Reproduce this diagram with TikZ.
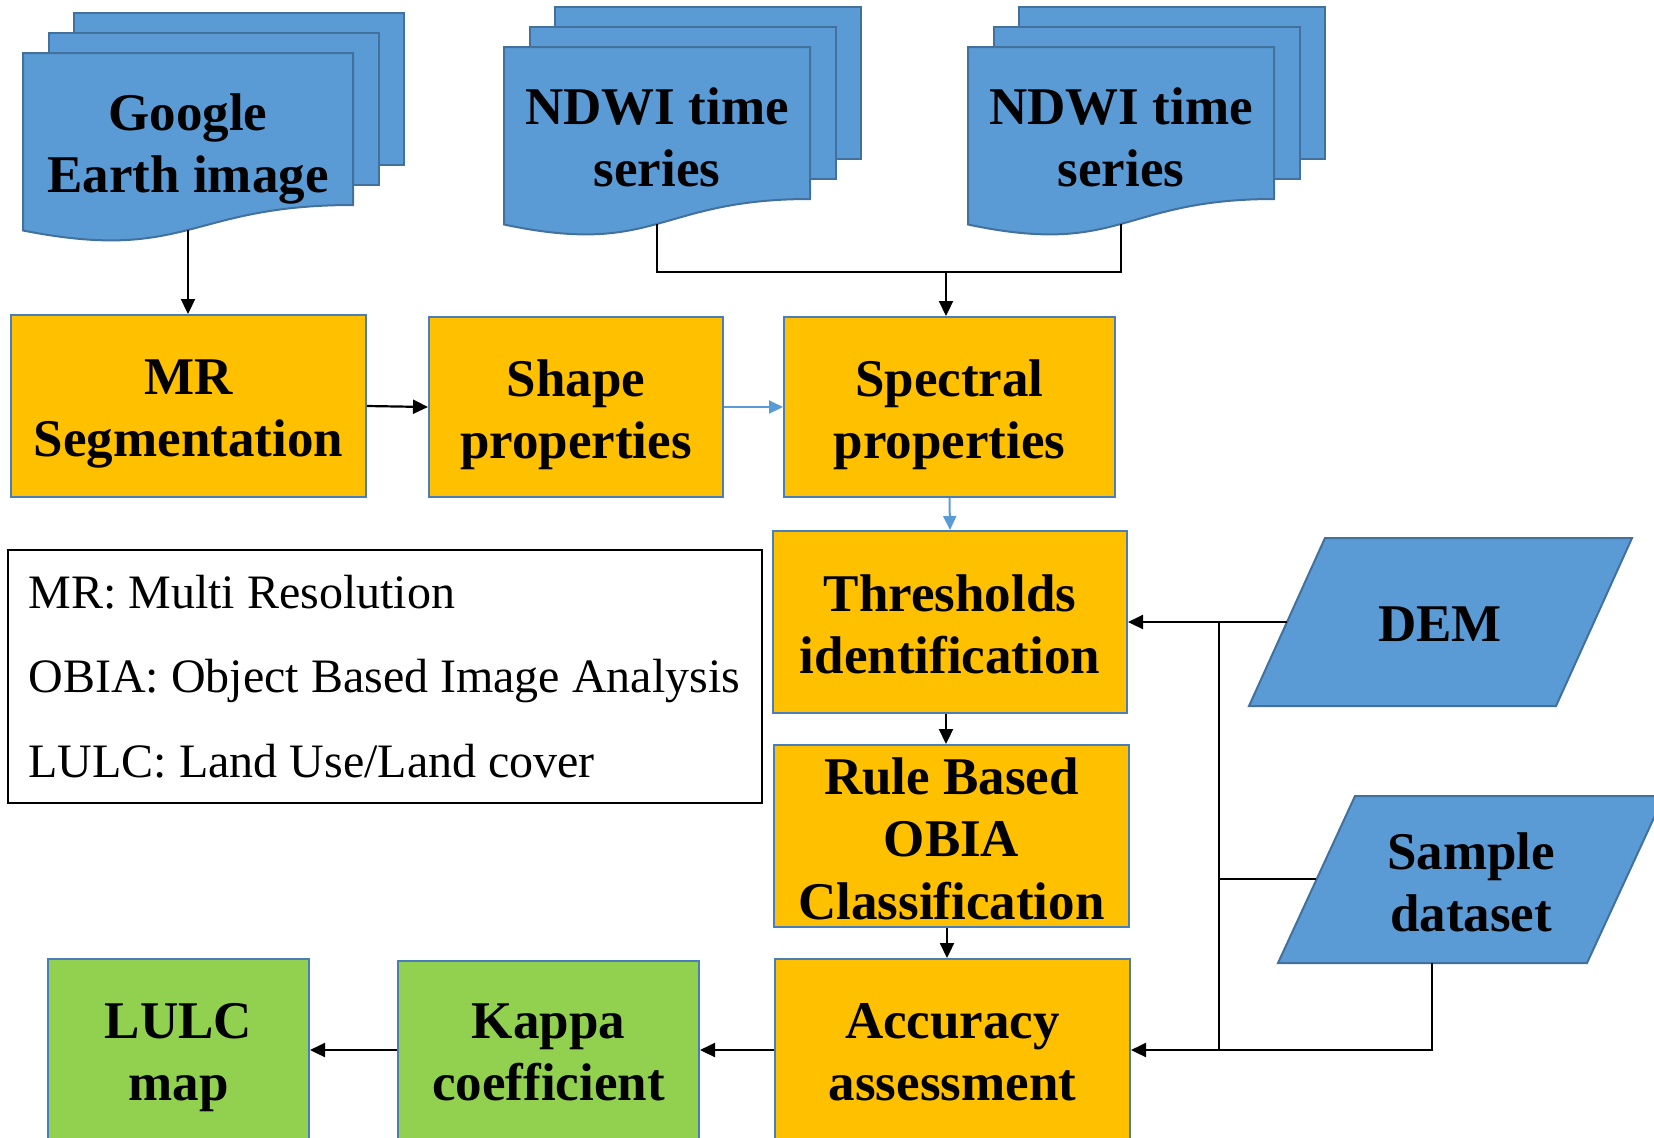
\documentclass[tikz,border=0pt]{standalone}
\usepackage{fontspec}
\setmainfont{Liberation Serif}
\usetikzlibrary{arrows.meta}
\definecolor{bfill}{HTML}{5B9BD5}
\definecolor{bline}{HTML}{41719C}
\definecolor{ofill}{HTML}{FFC000}
\definecolor{gfill}{HTML}{92D050}
\definecolor{boxline}{HTML}{4A7EBB}
\tikzset{
  boxtext/.style={font=\bfseries\fontsize{26.5}{31.25}\selectfont, align=center,
     execute at end node={\vphantom{g}}, yshift=-4pt},
  obox/.style={draw=boxline, fill=ofill, line width=1pt, inner sep=0pt},
  gbox/.style={draw=boxline, fill=gfill, line width=1pt, inner sep=0pt},
  docshape/.style={fill=bfill, draw=bline, line width=1pt},
  conn/.style={line width=1.1pt, black},
  arr/.style={conn, -{Triangle[length=7.5pt,width=7pt]}},
  barr/.style={line width=1pt, bfill, -{Triangle[length=7pt,width=6.5pt]}},
  legtext/.style={font=\fontsize{24}{28}\selectfont, anchor=base west, inner sep=0pt}
}
\newcommand\docstack[5]{%
  \path[docshape] ({#1+51},{#2-40}) rectangle ({#1+#3+51},{#2-40+152});
  \path[docshape] ({#1+26},{#2-20}) rectangle ({#1+#3+26},{#2-20+152});
  \path[docshape] (#1,#2) -- ({#1+#3},#2) -- ({#1+#3},{#2+152})
     .. controls ({#1+0.5*#3},{#2+152}) and ({#1+0.5*#3},{#2+210}) .. (#1,{#2+177.5}) -- cycle;
  \node[boxtext] (#4) at ({#1+0.5*#3},{#2+88}) {#5};
  \coordinate (#4b) at ({#1+0.5*#3},{#2+177});
}
\begin{document}
\begin{tikzpicture}[x=0.5pt,y=-0.5pt]
\useasboundingbox (0,0) rectangle (1654,1137);
\fill[white] (0,0) rectangle (1654,1137);
\clip (0,0) rectangle (1654,1137);

% documents
\docstack{23}{53}{330}{ge}{Google\\Earth image}
\docstack{504}{47}{306}{nda}{NDWI time\\series}
\docstack{968}{47}{306}{ndb}{NDWI time\\series}

% process boxes
\node[obox, minimum width=177.5pt, minimum height=91pt] (mr) at (188.5,406) {};
\node[boxtext] (mrt) at (mr) {MR\\Segmentation};
\node[obox, minimum width=147pt, minimum height=90pt] (shape) at (576,407) {};
\node[boxtext] (shapet) at (shape) {Shape\\properties};
\node[obox, minimum width=165.5pt, minimum height=90pt] (spec) at (949.5,407) {};
\node[boxtext] (spect) at (spec) {Spectral\\properties};
\node[obox, minimum width=177pt, minimum height=91pt] (thr) at (950,622) {};
\node[boxtext] (thrt) at (thr) {Thresholds\\identification};
\node[obox, minimum width=177.5pt, minimum height=91pt] (rule) at (951.5,836) {};
\node[boxtext] (rulet) at (rule) {Rule Based\\OBIA\\Classification};
\node[obox, minimum width=177.5pt, minimum height=91pt] (acc) at (952.5,1050) {};
\node[boxtext] (acct) at (acc) {Accuracy\\assessment};
\node[gbox, minimum width=150.5pt, minimum height=90pt] (kap) at (548.5,1051) {};
\node[boxtext] (kapt) at (548.5,1050) {Kappa\\coefficient};
\node[gbox, minimum width=130.5pt, minimum height=91pt] (lulc) at (178.5,1050) {};
\node[boxtext] (lulct) at (lulc) {LULC\\map};

% data inputs (parallelograms)
\path[docshape] (1325,538) -- (1632,538) -- (1556,706) -- (1249,706) -- cycle;
\node[boxtext] (dem) at (1440,622) {DEM};
\coordinate (demw) at (1287,622);
\path[docshape] (1355,796) -- (1664,796) -- (1587,963) -- (1278,963) -- cycle;
\node[boxtext] (samp) at (1471,880) {Sample\\dataset};
\coordinate (sampw) at (1316,879);
\coordinate (sampb) at (1432,963);

% legend
\draw[line width=1pt] (8,550) rectangle (762,803);
\node[legtext] (l1) at (28,608) {MR: Multi Resolution};
\node[legtext] (l2) at (28,692) {OBIA: Object Based Image Analysis};
\node[legtext] (l3) at (28,777) {LULC: Land Use/Land cover};

% connectors
\draw[arr] (geb) -- (geb |- mr.north);
\coordinate (nj) at (946,272);
\draw[conn] (ndab) |- (nj) -| (ndbb);
\draw[arr] (nj) -- (nj |- spec.north);
\draw[arr] (mr.east) -- (shape.west);
\draw[barr] (shape.east) -- (spec.west);
\draw[barr] (spec.south) -- (thr.north);
\draw[arr] (thr.south -| 946,0) -- (rule.north -| 946,0);
\draw[arr] (rule.south -| 947,0) -- (acc.north -| 947,0);
\draw[arr] (acc.west) -- (kap.east |- acc.west);
\draw[arr] (kap.west |- lulc.east) -- (lulc.east);
\draw[arr] (demw) -- (thr.east);
\coordinate (vj1) at (1219,622);
\coordinate (vj2) at (1219,1050);
\draw[conn] (vj1) -- (vj2);
\draw[conn] (sampw) -- (sampw -| vj1);
\draw[arr] (sampb) |- (acc.east);
\end{tikzpicture}
\end{document}
